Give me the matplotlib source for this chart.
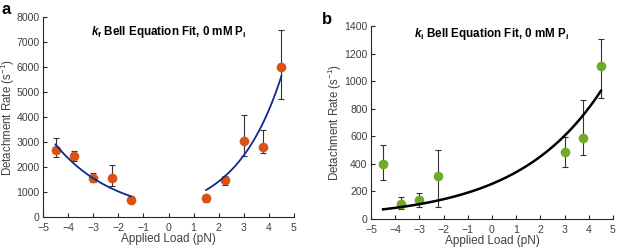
import numpy as np
import matplotlib
matplotlib.use("Agg")
import matplotlib.pyplot as plt

plt.rcParams["font.family"] = ["Liberation Sans", "DejaVu Sans"]
plt.rcParams["mathtext.fontset"] = "custom"
plt.rcParams["mathtext.rm"] = "Liberation Sans"
plt.rcParams["mathtext.it"] = "Liberation Sans:italic"
plt.rcParams["mathtext.bf"] = "Liberation Sans:bold"
plt.rcParams["mathtext.bfit"] = "Liberation Sans:bold:italic"

# panel a: k_f detachment rates
load_a = [-4.5, -3.75, -3.0, -2.25, -1.5, 1.5, 2.25, 3.0, 3.75, 4.5]
rate_a = [2700, 2450, 1550, 1580, 700, 750, 1470, 3030, 2800, 6020]
lo_a = [2400, 2250, 1400, 1250, 550, 620, 1300, 2450, 2550, 4730]
hi_a = [3150, 2650, 1750, 2100, 850, 870, 1650, 4100, 3500, 7480]
# Bell fit parameters (k0 in s^-1, slope in 1/pN) for each side
fit_neg = (444, -0.417)
fit_pos = (472, 0.5515)

# panel b: k_i detachment rates
load_b = [-4.5, -3.75, -3.0, -2.25, 3.0, 3.75, 4.5]
rate_b = [400, 110, 135, 315, 487, 590, 1110]
lo_b = [280, 75, 90, 85, 378, 465, 875]
hi_b = [540, 160, 185, 500, 595, 865, 1305]
fit_b = (255, 0.2875)

ORANGE = "#D95319"
GREEN = "#6FAA2A"
NAVY = "#102A8C"
DARK = "#262626"


def style(ax, ymax, ystep, label_x):
    for s in ("top", "right"):
        ax.spines[s].set_visible(False)
    for s in ("left", "bottom"):
        ax.spines[s].set_color(DARK)
        ax.spines[s].set_linewidth(0.8)
    ax.set_xlim(-5, 5)
    ax.set_ylim(0, ymax)
    ax.set_xticks(range(-5, 6))
    ax.set_yticks(np.arange(0, ymax + 1, ystep))
    ax.tick_params(direction="in", length=3, width=0.8, color=DARK,
                   labelsize=7.6, labelcolor="#404040", pad=2.5)
    ax.tick_params(axis="x", pad=4)
    ax.set_xlabel("Applied Load (pN)", fontsize=8.5, color="#404040", labelpad=0)
    ax.set_ylabel("Detachment Rate (s$^{-1}$)", fontsize=8.3, color="#404040")
    ax.yaxis.set_label_coords(label_x, 0.5)


def errs(y, lo, hi):
    y = np.array(y)
    return [y - np.array(lo), np.array(hi) - y]


fig = plt.figure(figsize=(6.17, 2.49), dpi=100)

ax = fig.add_axes([0.0697, 0.1285, 0.4068, 0.803])
ax.errorbar(load_a, rate_a, yerr=errs(rate_a, lo_a, hi_a), fmt="none",
            ecolor="#333333", elinewidth=0.8, capsize=2, capthick=0.8, zorder=2)
ax.plot(load_a, rate_a, "o", color=ORANGE, markersize=7, mec="none", zorder=3)
f = np.linspace(-4.5, -1.5, 100)
ax.plot(f, fit_neg[0] * np.exp(fit_neg[1] * f), color=NAVY, lw=1.3, zorder=4)
f = np.linspace(1.5, 4.5, 100)
ax.plot(f, fit_pos[0] * np.exp(fit_pos[1] * f), color=NAVY, lw=1.3, zorder=4)
style(ax, 8000, 1000, -0.104)
ax.text(0.5, 0.925, r"$\mathbfit{k}_\mathbf{f}$ Bell Equation Fit, 0 mM P$_\mathbf{i}$",
        transform=ax.transAxes, ha="center", va="center", fontsize=8.4,
        fontweight="bold")

ax = fig.add_axes([0.6013, 0.1205, 0.3922, 0.775])
ax.errorbar(load_b, rate_b, yerr=errs(rate_b, lo_b, hi_b), fmt="none",
            ecolor="#333333", elinewidth=0.8, capsize=2, capthick=0.8, zorder=2)
ax.plot(load_b, rate_b, "o", color=GREEN, markersize=7, mec="none", zorder=3)
f = np.linspace(-4.5, 4.5, 200)
ax.plot(f, fit_b[0] * np.exp(fit_b[1] * f), color="black", lw=1.8, zorder=4)
style(ax, 1400, 200, -0.112)
ax.text(0.5, 0.96, r"$\mathbfit{k}_\mathbf{i}$ Bell Equation Fit, 0 mM P$_\mathbf{i}$",
        transform=ax.transAxes, ha="center", va="center", fontsize=8.4,
        fontweight="bold")

fig.text(0.003, 0.99, "a", fontsize=12, fontweight="bold", va="top")
fig.text(0.522, 0.95, "b", fontsize=12, fontweight="bold", va="top")

fig.savefig("out.png", dpi=100)
